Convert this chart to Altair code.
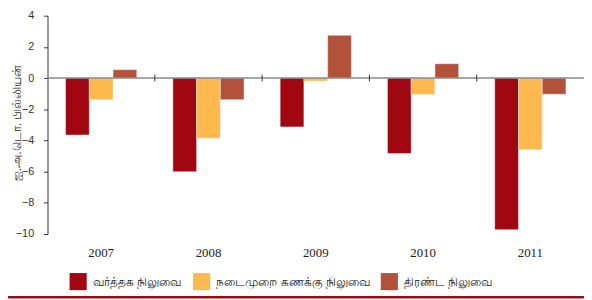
import altair as alt
import pandas as pd

years = ["2007", "2008", "2009", "2010", "2011"]
series = ["வர்த்தக நிலுவை", "நடைமுறை கணக்கு நிலுவை", "திரண்ட நிலுவை"]
trade = [-3.65, -6.0, -3.13, -4.84, -9.72]
current = [-1.39, -3.86, -0.2, -1.06, -4.59]
overall = [0.54, -1.39, 2.74, 0.92, -1.04]
colors = ["#A00711", "#FDB94E", "#B3523B"]
y_ticks = [-10, -8, -6, -4, -2, 0, 2, 4]
y_title = "ஐ.அ.டொ. பில்லியன்"

rows = []
for i, y in enumerate(years):
    for s, vals in zip(series, [trade, current, overall]):
        rows.append({"year": y, "series": s, "value": vals[i]})
df = pd.DataFrame(rows)

bounds = pd.DataFrame({"year": years[1:]})

x_scale = alt.Scale(domain=years, paddingInner=0, paddingOuter=0)
y_scale = alt.Scale(domain=[-10, 4], nice=False)

x_axis = alt.Axis(title=None, labelAngle=0, domain=False, ticks=False,
                  labelPadding=13, labelFont="Liberation Serif",
                  labelFontSize=13, labelColor="#222")
y_axis = alt.Axis(values=y_ticks, title=y_title, grid=False, tickCount=8,
                  domainColor="#333", tickColor="#333", tickSize=4,
                  labelPadding=10, labelFont="Liberation Sans",
                  labelFontSize=11, labelColor="#333",
                  titleFontSize=12.5, titleFontWeight="normal",
                  titleColor="#333", titleX=-31, titleY=108,
                  titleAngle=270, titleBaseline="middle", titleAlign="center")

bars = alt.Chart(df).mark_bar(stroke="white", strokeOpacity=0.45, strokeWidth=1).encode(
    x=alt.X("year:N", scale=x_scale, sort=years, axis=x_axis),
    xOffset=alt.XOffset("series:N", sort=series,
                        scale=alt.Scale(domain=series, paddingInner=0, paddingOuter=0.76)),
    y=alt.Y("value:Q", scale=y_scale, axis=y_axis),
    color=alt.Color("series:N", sort=series,
                    scale=alt.Scale(domain=series, range=colors),
                    legend=alt.Legend(title=None, orient="none", direction="horizontal",
                                      legendX=22, legendY=260, symbolType="square",
                                      symbolSize=300, symbolStrokeWidth=0,
                                      labelFontSize=12, labelColor="#222",
                                      labelOffset=6, columnPadding=12)),
)

zero = alt.Chart(pd.DataFrame({"value": [0]})).mark_rule(color="#888", strokeWidth=1.6).encode(
    y=alt.Y("value:Q", scale=y_scale, axis=y_axis)
)

ticks = alt.Chart(bounds).mark_rule(color="#333", strokeWidth=1).encode(
    x=alt.X("year:N", scale=x_scale, sort=years, bandPosition=0, axis=x_axis),
    y=alt.datum(-0.22),
    y2=alt.datum(0.22),
)

redline = alt.Chart(pd.DataFrame({"v": [0]})).mark_rule(color="#A00711", strokeWidth=2.5).encode(
    x=alt.value(-48), x2=alt.value(600), y=alt.value(285)
)

chart = alt.layer(bars, zero, ticks, redline).properties(
    width=543, height=221,
    autosize=alt.AutoSizeParams(type="none"),
    padding={"left": 40, "top": 6, "right": 0, "bottom": 65},
).configure_view(stroke=None).configure_axisY(labelOverlap=False, labelFlush=False)

chart.save("out.html", embed_options={"renderer": "svg", "actions": False})
